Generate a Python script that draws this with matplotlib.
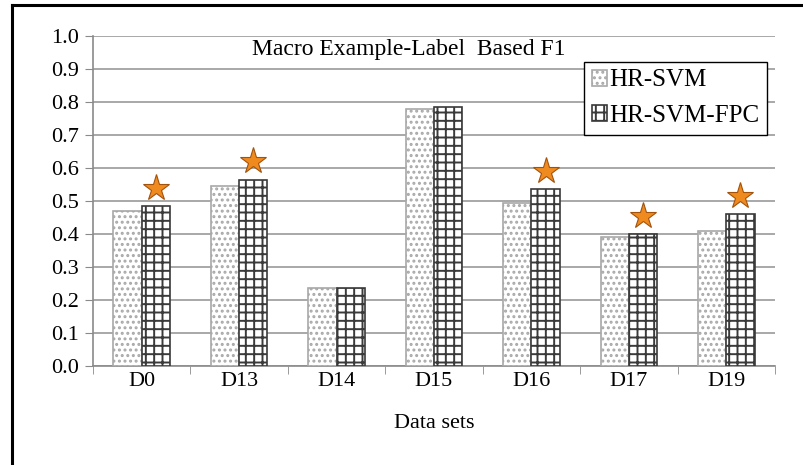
import numpy as np
import matplotlib
matplotlib.use("Agg")
import matplotlib.pyplot as plt
from matplotlib.lines import Line2D

datasets = ["D0", "D13", "D14", "D15", "D16", "D17", "D19"]
hr_svm = [0.47, 0.545, 0.235, 0.78, 0.495, 0.39, 0.41]
hr_svm_fpc = [0.485, 0.565, 0.235, 0.785, 0.535, 0.40, 0.46]
starred = ["D0", "D13", "D16", "D17", "D19"]  # FPC bars marked with a star

plt.rcParams["font.family"] = ["Liberation Serif", "DejaVu Serif"]
plt.rcParams["hatch.linewidth"] = 1.4

fig = plt.figure(figsize=(8.04, 4.65), dpi=100)
ax = fig.add_axes([93 / 804, 1 - 366 / 465, 682 / 804, 330 / 465])

x = np.arange(len(datasets))
w = 0.29
ax.bar(x - w / 2, hr_svm, w, facecolor="white", edgecolor="#a8a8a8",
       hatch="...", linewidth=1.2, label="HR-SVM", zorder=3)
ax.bar(x + w / 2, hr_svm_fpc, w, facecolor="white", edgecolor="#3a3a3a",
       hatch="++", linewidth=1.2, label="HR-SVM-FPC", zorder=3)

for i, d in enumerate(datasets):
    if d in starred:
        ax.plot(x[i] + w / 2, hr_svm_fpc[i] + 0.055, marker="*", ms=20,
                mfc="#ef8a1f", mec="#a3520c", mew=0.8, zorder=4)

ax.set_xlim(-0.5, len(datasets) - 0.5)
ax.set_ylim(0, 1.0)
ax.set_yticks(np.arange(0, 1.01, 0.1))
ax.set_yticklabels([f"{v:.1f}" for v in np.arange(0, 1.01, 0.1)], fontsize=16)
ax.set_xticks(x)
ax.set_xticklabels(datasets, fontsize=16)
ax.set_xticks(np.arange(-0.5, len(datasets), 1.0), minor=True)
ax.tick_params(axis="x", which="major", length=0, pad=4)
ax.tick_params(axis="x", which="minor", length=6, color="#8a8a8a")
ax.tick_params(axis="y", length=6, color="#8a8a8a", pad=4)
ax.grid(axis="y", color="#9a9a9a", linewidth=1.2, zorder=0)
ax.set_axisbelow(True)
for s in ["top", "right"]:
    ax.spines[s].set_visible(False)
for s in ["left", "bottom"]:
    ax.spines[s].set_color("#8a8a8a")
    ax.spines[s].set_linewidth(1.2)

ax.set_xlabel("Data sets", fontsize=16, labelpad=17)
ax.text(409 / 804, 1 - 50 / 465, "Macro Example-Label  Based F1", fontsize=17,
        ha="center", va="center", transform=fig.transFigure)

leg = ax.legend(loc="upper right", bbox_to_anchor=(767 / 804, 1 - 62 / 465),
                bbox_transform=fig.transFigure, borderaxespad=0, fontsize=18,
                fancybox=False, edgecolor="black", handlelength=0.6,
                handleheight=0.6, handletextpad=0.1, labelspacing=0.55,
                borderpad=0.3)
leg.get_frame().set_linewidth(1.0)
leg.get_frame().set_alpha(1)

# outer frame (only top and left visible in the crop)
fig.add_artist(Line2D([12 / 804, 1.0], [1 - 5 / 465, 1 - 5 / 465], color="black", lw=2.2))
fig.add_artist(Line2D([12 / 804, 12 / 804], [0, 1 - 5 / 465], color="black", lw=2.2))

fig.savefig("out.png", dpi=100)
